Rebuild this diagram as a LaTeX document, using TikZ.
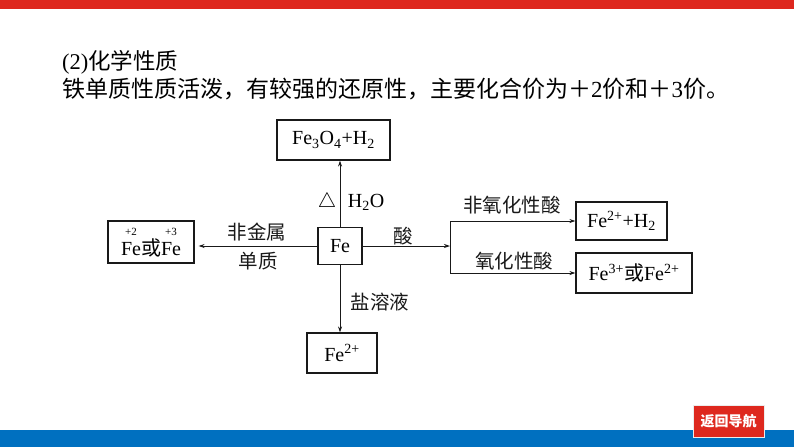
\documentclass[tikz,border=0pt]{standalone}
\usepackage{fontspec}
\setmainfont{Liberation Serif}
\newfontfamily\cjk{Noto Sans CJK SC}
\usepackage{amsmath}
\usetikzlibrary{arrows.meta, positioning, calc}
\definecolor{barRed}{RGB}{222,40,30}
\definecolor{barBlue}{RGB}{0,112,192}
\definecolor{mainBlack}{gray}{0.1}
\newcommand{\valFe}[1]{\ensuremath{\overset{\raisebox{3pt}{\fontsize{11}{11}\selectfont #1}}{\text{Fe}}}}

\begin{document}
\begin{tikzpicture}[x=1pt, y=-1pt, >={Stealth[length=6pt, width=4pt]},
    box/.style={draw=mainBlack, line width=1.1pt, inner sep=2pt, font=\fontsize{20}{22}\selectfont},
    arr/.style={->, line width=0.8pt, mainBlack},
    lbl/.style={font=\fontsize{19.5}{21}\selectfont\cjk, mainBlack, inner sep=1pt}]
    \useasboundingbox (0,0) rectangle (794,447);
    % page frame
    \fill[barRed] (0,0) rectangle (794,9);
    \fill[barBlue] (0,430) rectangle (794,447);
    \node[draw=white!85!gray, line width=1pt, fill=barRed, text=white, minimum width=71pt, minimum height=32pt,
          font=\fontsize{14}{16}\selectfont\cjk\bfseries] (back) at (728.5,421) {返回导航};

    % heading
    \node[anchor=west, font=\fontsize{22.5}{24}\selectfont, inner sep=0pt] (title) at (62,62) {(2){\cjk 化学性质}};
    \node[anchor=west, font=\fontsize{23}{24}\selectfont, inner sep=0pt] (intro) at (62,89)
        {{\cjk 铁单质性质活泼，有较强的还原性，主要化合价为＋}2{\cjk 价和＋}3{\cjk 价。}};

    % boxes
    \node[box, minimum width=113pt, minimum height=40pt] (fe3o4) at (333.5,140) {Fe\textsubscript{3}O\textsubscript{4}+H\textsubscript{2}};
    \node[box, minimum width=44pt, minimum height=37pt] (fe) at (340,246) {Fe};
    \node[box, minimum width=86pt, minimum height=42pt, inner sep=1pt] (valence) at (151,242)
        {\valFe{+2}{\cjk 或}\valFe{+3}};
    \node[box, minimum width=91pt, minimum height=38pt] (nonox) at (621.5,221) {Fe\textsuperscript{2+}+H\textsubscript{2}};
    \node[box, minimum width=116pt, minimum height=40pt] (ox) at (634,273) {Fe\textsuperscript{3+}{\cjk 或}Fe\textsuperscript{2+}};
    \node[box, minimum width=70pt, minimum height=40pt] (ferrous) at (342,353) {Fe\textsuperscript{2+}};

    % connectors
    \coordinate (fork) at (450,246);
    \draw[arr] (fe.north) -- (fe.north |- fe3o4.south);
    \draw[arr] (fe.west) -- ([xshift=4pt]valence.east |- fe.west);
    \draw[arr] (fe.south) -- (fe.south |- ferrous.north);
    \draw[arr] (fe.east) -- (fork);
    \draw[line width=0.8pt, mainBlack] (fork |- nonox.west) -- (fork |- ox.west);
    \draw[arr] (fork |- nonox.west) -- (nonox.west);
    \draw[arr] (fork |- ox.west) -- (ox.west);

    % labels
    \node[font=\fontsize{20}{22}\selectfont] (heat) at (327,202) {$\triangle$};
    \node[font=\fontsize{20}{22}\selectfont] (water) at (366,202) {H\textsubscript{2}O};
    \node[lbl] (nonmetal) at (257,232) {非金属};
    \node[lbl] (element) at (258,261) {单质};
    \node[lbl] (acid) at (403,236) {酸};
    \node[lbl] (nonoxacid) at (512,205) {非氧化性酸};
    \node[lbl] (oxacid) at (514,261) {氧化性酸};
    \node[lbl] (salt) at (380,302) {盐溶液};
\end{tikzpicture}
\end{document}
